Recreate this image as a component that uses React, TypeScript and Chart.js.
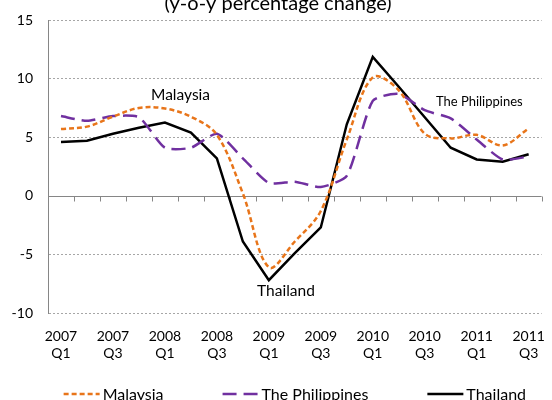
import React, { useEffect, useRef } from 'react';
import { Chart, registerables } from 'chart.js';

Chart.register(...registerables);

const quarters = [
  '2007 Q1', '2007 Q2', '2007 Q3', '2007 Q4',
  '2008 Q1', '2008 Q2', '2008 Q3', '2008 Q4',
  '2009 Q1', '2009 Q2', '2009 Q3', '2009 Q4',
  '2010 Q1', '2010 Q2', '2010 Q3', '2010 Q4',
  '2011 Q1', '2011 Q2', '2011 Q3',
];

const malaysia = [5.7, 5.9, 6.75, 7.5, 7.45, 6.75, 5.2, 0.2, -6.1, -3.9, -1.3, 4.8, 10.1, 9.0, 5.3, 4.9, 5.2, 4.3, 5.75];
const philippines = [6.8, 6.4, 6.8, 6.7, 4.1, 4.1, 5.3, 3.2, 1.1, 1.2, 0.75, 1.7, 8.1, 8.7, 7.3, 6.6, 4.8, 3.1, 3.35];
const thailand = [4.6, 4.7, 5.3, 5.8, 6.25, 5.4, 3.2, -3.9, -7.2, -4.9, -2.7, 6.1, 11.85, 9.3, 6.7, 4.1, 3.1, 2.9, 3.55];

const yTicks = [-10, -5, 0, 5, 10, 15];

const titleText = '(y-o-y percentage change)';
const seriesNames = ['Malaysia', 'The Philippines', 'Thailand'];
const seriesColors = ['#E8751A', '#7030A0', '#000000'];
const seriesDash = [[5, 3], [14, 7], []];

// in-plot labels
const noteTexts = ['Malaysia', 'Thailand', 'The Philippines'];
const noteIndex = [4.6, 8.66, 16.1];
const noteValue = [8.6, -8.1, 8.0];
const noteSize = [15.5, 15.5, 13];

const FONT = 'Lato, "Noto Sans", sans-serif';

const decorPlugin = {
  id: 'decor',
  beforeDatasetsDraw(chart: any) {
    const { ctx, chartArea, scales } = chart;
    const x = scales.x;
    const y = scales.y;
    const y0 = Math.round(y.getPixelForValue(0)) + 0.5;
    ctx.save();
    ctx.strokeStyle = '#868686';
    ctx.lineWidth = 1;
    ctx.setLineDash([]);
    ctx.beginPath();
    ctx.moveTo(chartArea.left, y0);
    ctx.lineTo(chartArea.right, y0);
    for (let k = 1; k <= quarters.length; k++) {
      const px = Math.round(x.getPixelForValue(k - 0.5)) + 0.5;
      ctx.moveTo(px, y0);
      ctx.lineTo(px, y0 + 5);
    }
    ctx.stroke();
    ctx.restore();
  },
  afterDraw(chart: any) {
    const { ctx, chartArea, scales } = chart;
    ctx.save();
    // title (partly cut off at the top)
    ctx.fillStyle = '#000';
    ctx.font = `20px ${FONT}`;
    ctx.textAlign = 'center';
    ctx.textBaseline = 'alphabetic';
    ctx.fillText(titleText, chart.width / 2 + 2, 10);

    // in-plot labels
    for (let i = 0; i < noteTexts.length; i++) {
      ctx.font = `${noteSize[i]}px ${FONT}`;
      ctx.textAlign = 'center';
      ctx.textBaseline = 'middle';
      ctx.fillText(noteTexts[i], scales.x.getPixelForValue(noteIndex[i]), scales.y.getPixelForValue(noteValue[i]));
    }

    // legend
    ctx.font = `16px ${FONT}`;
    const sample = 36;
    const gapText = 3;
    const gapItem = 59;
    const widths = seriesNames.map((n) => ctx.measureText(n).width);
    const total = widths.reduce((a, w) => a + sample + gapText + w, 0) + gapItem * (seriesNames.length - 1);
    let lx = (chartArea.left + chartArea.right) / 2 - total / 2;
    const ly = 394;
    for (let i = 0; i < seriesNames.length; i++) {
      ctx.strokeStyle = seriesColors[i];
      ctx.lineWidth = 2.5;
      ctx.setLineDash(seriesDash[i]);
      ctx.beginPath();
      ctx.moveTo(lx, ly);
      ctx.lineTo(lx + sample, ly);
      ctx.stroke();
      ctx.setLineDash([]);
      ctx.fillStyle = '#000';
      ctx.textAlign = 'left';
      ctx.textBaseline = 'middle';
      ctx.fillText(seriesNames[i], lx + sample + gapText, ly + 1);
      lx += sample + gapText + widths[i] + gapItem;
    }
    ctx.restore();
  },
};

export default function App() {
  const ref = useRef<HTMLCanvasElement | null>(null);

  useEffect(() => {
    if (!ref.current) return;
    const chart = new Chart(ref.current, {
      type: 'line',
      data: {
        labels: quarters,
        datasets: [
          {
            label: seriesNames[0],
            data: malaysia,
            borderColor: seriesColors[0],
            borderWidth: 2.5,
            borderDash: seriesDash[0],
            pointRadius: 0,
            tension: 0.35,
            fill: false,
          },
          {
            label: seriesNames[1],
            data: philippines,
            borderColor: seriesColors[1],
            borderWidth: 2.5,
            borderDash: seriesDash[1],
            pointRadius: 0,
            tension: 0.2,
            fill: false,
          },
          {
            label: seriesNames[2],
            data: thailand,
            borderColor: seriesColors[2],
            borderWidth: 2.5,
            pointRadius: 0,
            tension: 0,
            fill: false,
          },
        ],
      },
      options: {
        animation: false,
        responsive: false,
        maintainAspectRatio: false,
        layout: { padding: { top: 20, right: 4, left: 0, bottom: 0 } },
        plugins: {
          legend: { display: false },
          title: { display: false },
          tooltip: { enabled: false },
        },
        scales: {
          x: {
            type: 'category',
            offset: true,
            grid: { display: false },
            border: { display: false },
            ticks: {
              autoSkip: false,
              maxRotation: 0,
              minRotation: 0,
              padding: 7,
              color: '#000',
              font: { family: FONT, size: 14 },
              callback: (_v: any, idx: number) => (idx % 2 === 0 ? quarters[idx].split(' ') : ''),
            },
            afterFit: (s: any) => { s.height = 87; },
          },
          y: {
            min: yTicks[0],
            max: yTicks[yTicks.length - 1],
            afterBuildTicks: (s: any) => { s.ticks = yTicks.map((v) => ({ value: v })); },
            ticks: {
              stepSize: 5,
              padding: 0,
              color: '#000',
              font: { family: FONT, size: 14 },
            },
            grid: {
              color: (c: any) => (c.tick && c.tick.value === 0 ? 'rgba(0,0,0,0)' : '#a6a6a6'),
              drawTicks: true,
              tickLength: 15,
              tickColor: 'rgba(0,0,0,0)',
              lineWidth: 1,
            },
            border: { display: true, color: '#868686', width: 1, dash: [2, 2] },
            afterFit: (s: any) => { s.width = 48; },
          },
        },
      },
      plugins: [decorPlugin],
    });
    return () => chart.destroy();
  }, []);

  return (
    <div style={{ position: 'absolute', left: 0, top: 0, width: 552, height: 400, background: '#fff' }}>
      <canvas ref={ref} width={552} height={400} />
    </div>
  );
}
